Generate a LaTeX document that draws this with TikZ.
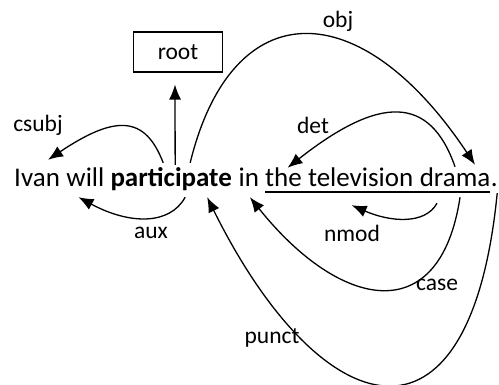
\documentclass[tikz,border=0pt]{standalone}
\usepackage{fontspec}
\setmainfont{Carlito}
\usetikzlibrary{arrows.meta,calc}

\tikzset{
  word/.style={inner sep=0, anchor=base west, text height=19pt, text depth=5pt, font=\fontsize{27}{30}\selectfont},
  deplab/.style={inner sep=0, font=\fontsize{23.5}{28}\selectfont},
  dep/.style={line width=1.3pt, -{Latex[length=15pt,width=12pt]}}
}

\begin{document}
\begin{tikzpicture}[x=1pt, y=-1pt]
      \useasboundingbox (0,0) rectangle (499,385);

      % the sentence
      \node [word] (ivan) at (14, 187) {Ivan};
      \node [word] (will) at (66.3, 187) {will};
      \node [word] (part) at (110.3, 187) {\textbf{participate}};
      \node [word] (in) at (238.5, 187) {in};
      \node [word] (the) at (265, 187) {the};
      \node [word] (tele) at (307.8, 187) {television};
      \node [word] (drama) at (419.6, 187) {drama};
      \node [word] (dot) at (490.6, 187) {.};
      \draw [line width=1.8pt] (the.south west) -- (drama.south east);

      \node [draw, line width=1.1pt, deplab, minimum width=89pt, minimum height=40pt] (root) at (178, 52) {root};

      % arcs above
      \draw [dep] ($(part.north)+(4,-3)$) -- ($(root.south)+(-3,12)$);
      \draw [dep] ($(part.north)+(-8,-5)$) .. controls (145,115) and (115,115) .. ($(ivan.north)+(11,-8)$);
      \draw [dep] ($(part.north)+(19,-5)$) .. controls (232,-8) and (360,-8) .. ($(drama.north)+(20,-3)$);
      \draw [dep] ($(drama.north)+(0,-1)$) .. controls (430,95) and (380,95) .. ($(the.north)+(4,0)$);

      % arcs below
      \draw [dep] ($(part.south)+(14,5)$) .. controls (170,225) and (130,225) .. ($(will.south)+(-7,5)$);
      \draw [dep] ($(drama.south)+(-18,11)$) .. controls (425,225) and (390,222) .. ($(tele.south)+(-9,13)$);
      \draw [dep] ($(drama.south)+(5,5)$) .. controls (440,330) and (340,310) .. ($(in.south)+(1,5)$);
      \draw [dep] ($(dot.south)+(3,1)$) .. controls (470,470) and (320,425) .. ($(part.south)+(36,5)$);

      \node [deplab] (l-csubj) at (38, 125) {csubj};
      \node [deplab] (l-obj) at (338, 21) {obj};
      \node [deplab] (l-det) at (313, 125) {det};
      \node [deplab] (l-aux) at (151, 233) {aux};
      \node [deplab] (l-nmod) at (352, 233) {nmod};
      \node [deplab] (l-case) at (437, 285) {case};
      \node [deplab] (l-punct) at (272, 338) {punct};
\end{tikzpicture}
\end{document}
